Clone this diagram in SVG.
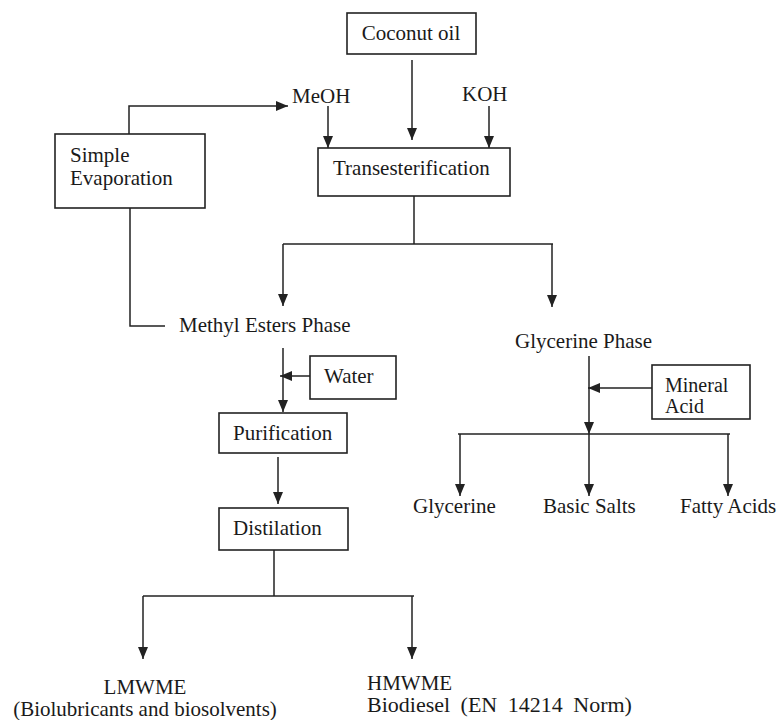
<svg xmlns="http://www.w3.org/2000/svg" width="780" height="720" viewBox="0 0 780 720">
<style>
  text { font-family: "Liberation Serif", "Times New Roman", serif; font-size: 21px; fill: #1a1a1a; }
  .box { fill: #ffffff; stroke: #222; stroke-width: 1.6; }
  .ln { fill: none; stroke: #222; stroke-width: 1.5; }
  .ar { fill: none; stroke: #222; stroke-width: 1.5; marker-end: url(#ah); }
</style>
<defs>
  <marker id="ah" markerUnits="userSpaceOnUse" markerWidth="12" markerHeight="10" refX="12" refY="5" orient="auto">
    <path d="M0,0 L12,5 L0,10 z" fill="#222"/>
  </marker>
</defs>
<rect width="780" height="720" fill="#ffffff"/>

<g id="connectors">
  <path class="ar" d="M412,60 V140"/>
  <path class="ar" d="M328,106 V148"/>
  <path class="ar" d="M489,106 V148"/>
  <path class="ar" d="M129,134 V106 H288"/>
  <path class="ln" d="M414,196 V244"/>
  <path class="ln" d="M283,244 H553"/>
  <path class="ar" d="M283,244 V306"/>
  <path class="ar" d="M552,244 V307"/>
  <path class="ln" d="M130,208 V326 H165"/>
  <path class="ar" d="M283,348 V412"/>
  <path class="ar" d="M310,376 H280"/>
  <path class="ar" d="M278,457 V504"/>
  <path class="ln" d="M274,550 V596"/>
  <path class="ln" d="M143,596 H414"/>
  <path class="ar" d="M143,596 V659"/>
  <path class="ar" d="M412,596 V659"/>
  <path class="ar" d="M589,356 V434"/>
  <path class="ar" d="M652,388 H588"/>
  <path class="ln" d="M458,434 H730"/>
  <path class="ar" d="M460,434 V496"/>
  <path class="ar" d="M589,434 V496"/>
  <path class="ar" d="M728,434 V496"/>
</g>

<g id="coconut-oil">
  <rect class="box" x="347" y="13" width="129" height="41"/>
  <text x="411" y="40" text-anchor="middle">Coconut oil</text>
</g>
<g id="meoh">
  <text x="292" y="103">MeOH</text>
</g>
<g id="koh">
  <text x="462" y="101">KOH</text>
</g>
<g id="transesterification">
  <rect class="box" x="318" y="148" width="192" height="48"/>
  <text x="333" y="175">Transesterification</text>
</g>
<g id="simple-evaporation">
  <rect class="box" x="55" y="134" width="150" height="74"/>
  <text x="70" y="162">Simple</text>
  <text x="70" y="185">Evaporation</text>
</g>
<g id="methyl-esters-phase">
  <text x="179" y="332">Methyl Esters Phase</text>
</g>
<g id="glycerine-phase">
  <text x="515" y="348">Glycerine Phase</text>
</g>
<g id="water">
  <rect class="box" x="310" y="356" width="86" height="43"/>
  <text x="324" y="383">Water</text>
</g>
<g id="mineral-acid">
  <rect class="box" x="652" y="365" width="98" height="54"/>
  <text x="665" y="392" style="font-size:20px">Mineral</text>
  <text x="665" y="413" style="font-size:20px">Acid</text>
</g>
<g id="purification">
  <rect class="box" x="219" y="413" width="128" height="40"/>
  <text x="233" y="440">Purification</text>
</g>
<g id="distilation">
  <rect class="box" x="219" y="508" width="129" height="42"/>
  <text x="233" y="535">Distilation</text>
</g>
<g id="glycerine">
  <text x="413" y="513">Glycerine</text>
</g>
<g id="basic-salts">
  <text x="543" y="513">Basic Salts</text>
</g>
<g id="fatty-acids">
  <text x="680" y="513">Fatty Acids</text>
</g>
<g id="lmwme">
  <text x="145" y="694" text-anchor="middle">LMWME</text>
  <text x="145" y="716" text-anchor="middle">(Biolubricants and biosolvents)</text>
</g>
<g id="hmwme">
  <text x="367" y="690">HMWME</text>
  <text x="367" y="712" style="font-size:22px;word-spacing:5px">Biodiesel (EN 14214 Norm)</text>
</g>
</svg>
